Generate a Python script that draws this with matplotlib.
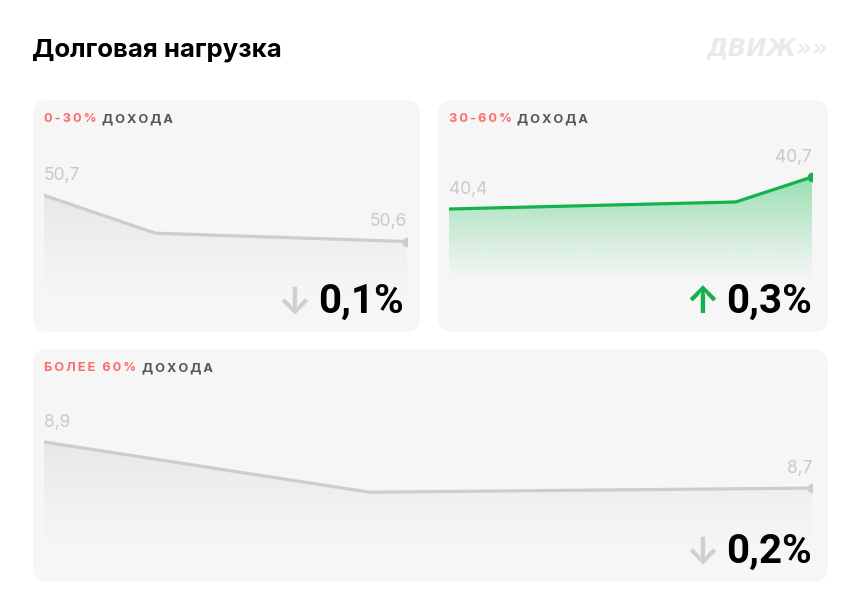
import numpy as np
import matplotlib
matplotlib.use("Agg")
import matplotlib.pyplot as plt
from matplotlib.patches import FancyBboxPatch
from matplotlib.colors import to_rgb

plt.rcParams['font.family'] = ['Inter', 'DejaVu Sans']

# данные (доля периода, значение)
t_low = [0, 0.307, 1]
v_low = [50.7, 50.618, 50.6]
t_mid = [0, 0.79, 1]
v_mid = [40.4, 40.466, 40.7]
t_high = [0, 0.424, 1]
v_high = [8.9, 8.682, 8.7]

titles_red = ["0-30%", "30-60%", "БОЛЕЕ 60%"]
changes = ["0,1%", "0,3%", "0,2%"]
up = [False, True, False]

W, H = 860, 615
fig = plt.figure(figsize=(8.6, 6.15), dpi=100)
fig.patch.set_facecolor("white")

bg = fig.add_axes([0, 0, 1, 1])
bg.set_xlim(0, W)
bg.set_ylim(H, 0)
bg.axis("off")

RED = "#ff6b6b"
GREY_TXT = "#555555"
LINE_GREY = "#cdcdcd"
GREEN = "#14b24a"
CARD = "#f6f6f6"


def fax(x0, y0, x1, y1):
    # пиксели -> доли фигуры
    return [x0 / W, 1 - y1 / H, (x1 - x0) / W, (y1 - y0) / H]


def spaced(s):
    return "\u2009".join(s)


bg.text(32, 50, "Долговая нагрузка", fontsize=18.5, fontweight="bold",
        va="center", ha="left", color="black")
bg.text(828, 48, "ДВИЖ»»", fontsize=17.5, fontweight="heavy", style="italic",
        va="center", ha="right", color="#e9e9ee", family=["DejaVu Sans"])

cards = [(33, 100, 420, 332), (438, 100, 828, 332), (33, 349, 828, 582)]
for (x0, y0, x1, y1) in cards:
    bg.add_patch(FancyBboxPatch((x0, y0), x1 - x0, y1 - y0,
                                boxstyle="round,pad=0,rounding_size=15",
                                fc=CARD, ec="none"))

# заголовки карточек
for (x0, y0, x1, y1), red in zip(cards, titles_red):
    tr = bg.text(x0 + 11, y0 + 19, spaced(red), fontsize=9.2, fontweight="bold",
                 color=RED, va="center", ha="left")
    bg.annotate(spaced("ДОХОДА"), xy=(1, 0.5), xycoords=tr,
                xytext=(4, 0), textcoords="offset points",
                fontsize=9.2, fontweight="bold", color=GREY_TXT,
                va="center", ha="left")

panels = [
    (t_low, v_low, fax(44, 150, 407, 297), (50.48, 50.798), LINE_GREY, "#d9d9d9", 0.55),
    (t_mid, v_mid, fax(449, 150, 812, 285), (39.688, 40.953), GREEN, "#1dbf55", 0.5),
    (t_high, v_high, fax(44, 400, 812, 548), (8.44, 9.082), LINE_GREY, "#d9d9d9", 0.55),
]

for (t, v, rect, ylim, lc, fc, amax) in panels:
    ax = fig.add_axes(rect)
    ax.set_xlim(0, 1)
    ax.set_ylim(*ylim)
    ax.axis("off")
    ax.patch.set_alpha(0)
    poly = ax.fill_between(t, v, ylim[0], color="none", lw=0)
    rgb = to_rgb(fc)
    n = 256
    grad = np.zeros((n, 1, 4))
    grad[:, 0, :3] = rgb
    grad[:, 0, 3] = np.linspace(amax, 0, n) ** 1.2
    top = max(v)
    im = ax.imshow(grad, extent=[0, 1, ylim[0], top], aspect="auto",
                   origin="upper", zorder=1)
    im.set_clip_path(poly.get_paths()[0], transform=ax.transData)
    ax.plot(t, v, color=lc, lw=2.3, solid_capstyle="round", zorder=3)
    ax.plot(t[-1], v[-1], "o", color=lc, ms=6, zorder=4)
    ax.annotate(f"{v[0]:.1f}".replace(".", ","), (t[0], v[0]), xytext=(0, 8),
                textcoords="offset points", ha="left", va="bottom",
                fontsize=12.5, color="#c9c9c9")
    ax.annotate(f"{v[-1]:.1f}".replace(".", ","), (t[-1], v[-1]), xytext=(0, 8),
                textcoords="offset points", ha="right", va="bottom",
                fontsize=12.5, color="#c9c9c9")

# изменения
for (x0, y0, x1, y1), ch, is_up in zip(cards, changes, up):
    xr = x1 - 16
    yb = y1 - 19
    t = bg.text(xr, yb, ch, fontsize=29, fontweight="bold", color="black",
                ha="right", va="baseline", family=["Roboto", "DejaVu Sans"])
    bg.annotate("↑" if is_up else "↓", xy=(0, 0), xycoords=t,
                xytext=(-5, 0), textcoords="offset points",
                fontsize=27, fontweight="bold",
                color=GREEN if is_up else "#cfcfcf",
                ha="right", va="bottom", family=["Inter", "DejaVu Sans"])

fig.savefig("out.png", dpi=100)
